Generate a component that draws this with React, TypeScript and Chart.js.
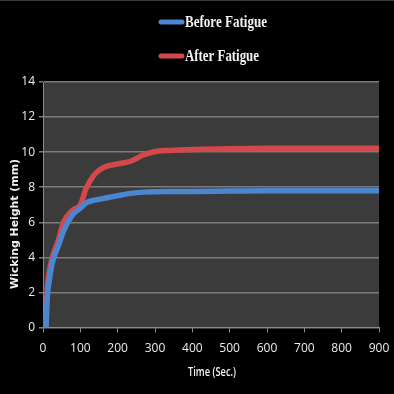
import React, { useEffect, useRef } from "react";
import { Chart, registerables } from "chart.js";

Chart.register(...registerables);

const timeSec = [8, 11, 17, 25, 40, 55, 80, 100, 115, 135, 160, 200, 235, 270, 305, 340, 400, 500, 600, 700, 800, 900];
const beforeFatigue = [0, 1.6, 2.7, 3.7, 4.6, 5.5, 6.45, 6.8, 7.1, 7.25, 7.35, 7.52, 7.65, 7.72, 7.74, 7.75, 7.76, 7.78, 7.8, 7.8, 7.8, 7.8];
const afterFatigue = [0, 2.0, 3.2, 4.0, 4.9, 6.0, 6.7, 7.0, 7.9, 8.65, 9.1, 9.33, 9.48, 9.85, 10.05, 10.1, 10.15, 10.2, 10.22, 10.22, 10.22, 10.22];
const seriesNames = ["Before Fatigue", "After Fatigue"];
const seriesColors = ["#4a86d2", "#d4474a"];
const yTitle = "Wicking Height (mm)";
const xTitle = "Time (Sec.)";

function drawScaledText(ctx: CanvasRenderingContext2D, text: string, x: number, y: number, targetWidth: number, align: "left" | "center") {
  const w = ctx.measureText(text).width;
  const s = targetWidth / w;
  ctx.save();
  ctx.translate(x, y);
  ctx.scale(s, 1);
  ctx.textAlign = align;
  ctx.fillText(text, 0, 0);
  ctx.restore();
}

const decorPlugin = {
  id: "decor",
  beforeDraw(chart: any) {
    const { ctx, chartArea } = chart;
    ctx.save();
    ctx.fillStyle = "#3b3b3b";
    ctx.fillRect(chartArea.left, chartArea.top, chartArea.right - chartArea.left, chartArea.bottom - chartArea.top);
    ctx.restore();
  },
  afterDraw(chart: any) {
    const { ctx } = chart;
    ctx.save();
    const rows = [21, 55];
    const widths = [82, 74];
    chart.data.datasets.forEach((ds: any, i: number) => {
      ctx.strokeStyle = ds.borderColor;
      ctx.lineWidth = 5;
      ctx.lineCap = "round";
      ctx.beginPath();
      ctx.moveTo(161, rows[i]);
      ctx.lineTo(182, rows[i]);
      ctx.stroke();
      ctx.fillStyle = "#f4f4f4";
      ctx.font = "bold 16px 'Liberation Serif', serif";
      ctx.textBaseline = "middle";
      drawScaledText(ctx, ds.label, 185, rows[i] + 1, widths[i], "left");
    });
    ctx.fillStyle = "#f2f2f2";
    ctx.font = "bold 11px 'DejaVu Sans', sans-serif";
    ctx.textBaseline = "middle";
    ctx.save();
    ctx.translate(15, 223);
    ctx.rotate(-Math.PI / 2);
    drawScaledText(ctx, yTitle, 0, 0, 130, "center");
    ctx.restore();
    ctx.font = "600 12px 'Open Sans', sans-serif";
    drawScaledText(ctx, xTitle, 212, 372, 48, "center");
    ctx.restore();
  },
};

export default function App() {
  const ref = useRef<HTMLCanvasElement | null>(null);
  useEffect(() => {
    document.body.style.margin = "0";
    const canvas = ref.current!;
    const chart = new Chart(canvas, {
      type: "line",
      data: {
        datasets: [
          {
            label: seriesNames[0],
            data: timeSec.map((t, i) => ({ x: t, y: beforeFatigue[i] })),
            borderColor: seriesColors[0],
            backgroundColor: seriesColors[0],
            borderWidth: 5.5,
            pointRadius: 0,
            cubicInterpolationMode: "monotone",
          },
          {
            label: seriesNames[1],
            data: timeSec.map((t, i) => ({ x: t, y: afterFatigue[i] })),
            borderColor: seriesColors[1],
            backgroundColor: seriesColors[1],
            borderWidth: 5.5,
            pointRadius: 0,
            cubicInterpolationMode: "monotone",
          },
        ],
      },
      options: {
        animation: false,
        responsive: false,
        devicePixelRatio: 1,
        layout: { padding: { left: 0, right: 15, top: 81, bottom: 0 } },
        plugins: { legend: { display: false }, tooltip: { enabled: false } },
        scales: {
          x: {
            type: "linear",
            min: 0,
            max: 900,
            ticks: { stepSize: 100, color: "#ececec", font: { family: "'Open Sans', sans-serif", size: 12 }, padding: 9, maxRotation: 0 },
            grid: { drawOnChartArea: false, drawTicks: true, tickLength: 5, color: "#8a8a8a" },
            border: { color: "#8a8a8a", width: 1 },
            afterFit: (s: any) => { s.height = 66.5; s.paddingLeft = 0; s.paddingRight = 0; },
          },
          y: {
            min: 0,
            max: 14,
            ticks: { stepSize: 2, color: "#ececec", font: { family: "'Open Sans', sans-serif", size: 12 }, padding: 4 },
            grid: { color: "#7c7c7c", lineWidth: 1.5, tickLength: 4 },
            border: { color: "#8a8a8a", width: 1 },
            afterFit: (s: any) => { s.width = 43; s.paddingTop = 0; s.paddingBottom = 0; },
          },
        },
      },
      plugins: [decorPlugin],
    } as any);
    return () => chart.destroy();
  }, []);
  return (
    <div style={{ position: "fixed", left: 0, top: 0, width: 394, height: 394, background: "#000", borderTop: "1px solid #3a3a3a", boxSizing: "border-box" }}>
      <canvas ref={ref} width={394} height={393} style={{ display: "block" }} />
    </div>
  );
}
